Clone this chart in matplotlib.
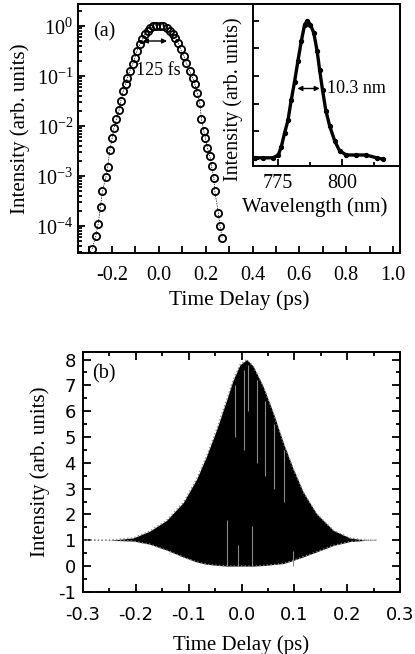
import numpy as np
import matplotlib
matplotlib.use('Agg')
import matplotlib.pyplot as plt
from matplotlib.ticker import FixedLocator, MultipleLocator, LogLocator, NullFormatter, FuncFormatter

plt.rcParams['font.family'] = 'Liberation Serif'
plt.rcParams['mathtext.fontset'] = 'custom'
plt.rcParams['mathtext.rm'] = 'Liberation Serif'
plt.rcParams['axes.linewidth'] = 1.4

# (a) autocorrelation, log scale
t_a = [-0.285, -0.269, -0.259, -0.249, -0.241, -0.226, -0.219, -0.209, -0.199, -0.191,
       -0.181, -0.170, -0.162, -0.152, -0.142, -0.134, -0.124, -0.112, -0.103, -0.093,
       -0.081, -0.070, -0.060, -0.048, -0.038, -0.024, -0.010, 0.004, 0.018, 0.033,
       0.047, 0.061, 0.071, 0.083, 0.093, 0.107, 0.118, 0.132, 0.144, 0.154,
       0.164, 0.175, 0.182, 0.192, 0.199, 0.207, 0.218, 0.225, 0.235, 0.239,
       0.254, 0.261, 0.270]
i_a = [3.5e-5, 6.3e-5, 1.1e-4, 2.4e-4, 5e-4, 9.5e-4, 1.5e-3, 3.3e-3, 5.8e-3, 9.3e-3,
       1.35e-2, 2.05e-2, 3.2e-2, 5e-2, 7e-2, 9.3e-2, 0.126, 0.17, 0.23, 0.32,
       0.43, 0.54, 0.68, 0.79, 0.9, 1.0, 1.02, 1.02, 1.0, 0.92,
       0.79, 0.68, 0.58, 0.46, 0.34, 0.25, 0.18, 0.126, 0.093, 0.068,
       0.046, 0.029, 0.0135, 7.9e-3, 5.8e-3, 3.7e-3, 2.5e-3, 1.6e-3, 9.3e-4, 5e-4,
       1.85e-4, 1e-4, 5.9e-5]

# inset spectrum
wl = [765.8, 769.0, 773.0, 775.0, 776.2, 777.5, 778.8, 780.1, 781.4, 782.7, 784.0,
      785.3, 786.4, 787.6, 788.9, 790.2, 791.2, 792.3, 793.6, 795.1, 797.1,
      799.0, 801.6, 805.5, 809.4, 813.4, 815.9]
spec = [0.01, 0.01, 0.01, 0.03, 0.09, 0.19, 0.28, 0.43, 0.56, 0.71, 0.85,
        0.97, 1.0, 0.97, 0.91, 0.78, 0.64, 0.5, 0.35, 0.24, 0.13,
        0.06, 0.03, 0.03, 0.03, 0.01, 0.0]

# (b) interferometric autocorrelation envelopes
t_up = [-0.300, -0.250, -0.205, -0.174, -0.142, -0.110, -0.085, -0.066, -0.047, -0.028,
        -0.016, -0.003, 0.010, 0.022, 0.041, 0.060, 0.079, 0.098, 0.117, 0.142,
        0.174, 0.205, 0.237, 0.256]
up = [1.0, 1.0, 1.09, 1.35, 1.77, 2.47, 3.37, 4.27, 5.3, 6.45,
      7.2, 7.8, 8.0, 7.75, 6.96, 5.94, 4.78, 3.76, 2.86, 2.03,
      1.38, 1.09, 1.0, 1.0]
low = [1.0, 1.0, 0.97, 0.85, 0.62, 0.35, 0.16, 0.07, 0.03, 0.0,
       0.0, 0.0, 0.0, 0.0, 0.02, 0.06, 0.1, 0.22, 0.36, 0.55,
       0.8, 0.95, 1.0, 1.0]

# gray streaks seen inside the fringe area
streak_t = [-0.028, -0.006, 0.019, 0.098, 0.005, 0.030, 0.045, 0.062, 0.080, -0.012, 0.012]
streak_lo = [0.0, 0.0, 0.0, 0.0, 4.5, 4.0, 3.5, 3.0, 2.5, 5.0, 6.0]
streak_hi = [1.8, 0.8, 1.55, 0.6, 7.6, 7.2, 6.4, 5.5, 4.5, 7.0, 7.8]

fig = plt.figure(figsize=(4.15, 6.54), dpi=100)

ax = fig.add_axes([0.188, 0.613, 0.776, 0.381])
ax.plot(t_a, i_a, '-', color='k', lw=0.5, dashes=(2, 1.5))
ax.plot(t_a, i_a, 'o', mfc='none', mec='k', ms=5.2, mew=1.3)
ax.set_yscale('log')
ax.set_xlim(-0.345, 1.03)
ax.set_ylim(10 ** -4.54, 10 ** 0.44)
ax.xaxis.set_major_locator(FixedLocator([-0.2, 0.0, 0.2, 0.4, 0.6, 0.8, 1.0]))
ax.xaxis.set_minor_locator(FixedLocator([-0.3, -0.1, 0.1, 0.3, 0.5, 0.7, 0.9]))
ax.xaxis.set_major_formatter(FuncFormatter(lambda v, p: '%.1f' % v if abs(v) > 1e-9 else '0.0'))
ax.yaxis.set_major_locator(FixedLocator([1e-4, 1e-3, 1e-2, 1e-1, 1]))
ax.yaxis.set_minor_locator(LogLocator(base=10, subs=np.arange(2, 10)))
ax.yaxis.set_minor_formatter(NullFormatter())
ax.yaxis.set_major_formatter(FuncFormatter(lambda v, p: '10$^{%d}$' % round(np.log10(v))))
ax.tick_params(which='both', direction='in', top=False, right=False, labelsize=14.5, width=1.3)
ax.tick_params(which='major', length=5)
ax.tick_params(which='minor', length=3)
ax.tick_params(axis='x', which='both', length=5, pad=9)
ax.set_xlabel('Time Delay (ps)', fontsize=15.5, labelpad=4)
ax.set_ylabel('Intensity (arb. units)', fontsize=15, labelpad=4)
ax.text(0.047, 0.888, '(a)', transform=ax.transAxes, fontsize=14.5, va='center')
ax.annotate('', xy=(-0.08, 0.5), xytext=(0.047, 0.5),
            arrowprops=dict(arrowstyle='<|-|>', color='k', lw=1.0, mutation_scale=7))
ax.text(0.25, 0.731, '125 fs', transform=ax.transAxes, fontsize=13, ha='center', va='center')

ins = fig.add_axes([0.610, 0.746, 0.354, 0.248])
ins.plot(wl, spec, '-', color='k', lw=2.4)
ins.plot(wl, spec, 'o', color='k', ms=2.8)
ins.set_xlim(765.2, 822.6)
ins.set_ylim(-0.05, 1.12)
ins.xaxis.set_major_locator(FixedLocator([775, 800]))
ins.xaxis.set_minor_locator(FixedLocator([787.5, 812.5]))
ins.yaxis.set_major_locator(MultipleLocator(0.2))
ins.set_yticklabels([])
ins.tick_params(which='both', direction='in', top=False, right=False, labelsize=14.5, width=1.3)
ins.tick_params(which='major', length=5)
ins.tick_params(which='minor', length=3)
ins.tick_params(axis='x', pad=6)
ins.tick_params(axis='y', length=4)
ins.set_xlabel('Wavelength (nm)', fontsize=15)
ins.xaxis.set_label_coords(0.42, -0.19, transform=ins.transAxes)
ins.xaxis.label.set_va('top')
ins.set_ylabel('Intensity (arb. units)', fontsize=14.5)
ins.yaxis.set_label_coords(-0.07, 0.41, transform=ins.transAxes)
ins.annotate('', xy=(781.4, 0.51), xytext=(792.3, 0.51),
             arrowprops=dict(arrowstyle='<|-|>', color='k', lw=1.0, mutation_scale=7))
ins.text(794.0, 0.51, '10.3 nm', fontsize=13, va='center')

bx = fig.add_axes([0.200, 0.095, 0.764, 0.367])
bx.fill_between(t_up, low, up, color='k', lw=0)
bx.plot(t_up, up, color='#888888', lw=1.0, ls=':')
bx.plot(t_up, low, color='#888888', lw=1.0, ls=':')
bx.vlines(streak_t, streak_lo, streak_hi, color='#8a8a8a', lw=0.8)
bx.set_xlim(-0.3, 0.3)
bx.set_ylim(-1, 8.3)
bx.xaxis.set_major_locator(MultipleLocator(0.1))
bx.xaxis.set_minor_locator(MultipleLocator(0.05))
bx.yaxis.set_major_locator(MultipleLocator(1))
bx.yaxis.set_minor_locator(MultipleLocator(0.5))
bx.xaxis.set_major_formatter(FuncFormatter(lambda v, p: '%.1f' % v if abs(v) > 1e-9 else '0.0'))
bx.yaxis.set_major_formatter(FuncFormatter(lambda v, p: '%d' % round(v)))
bx.tick_params(which='both', direction='in', top=True, right=True, width=1.3)
bx.tick_params(which='major', length=6)
bx.tick_params(which='minor', length=3)
bx.tick_params(labelsize=13)
bx.tick_params(axis='x', pad=10)
bx.tick_params(axis='y', pad=5)
for lab in bx.get_xticklabels() + bx.get_yticklabels():
    lab.set_fontfamily('DejaVu Sans')
bx.set_xlabel('Time Delay (ps)', fontsize=15, labelpad=8)
bx.set_ylabel('Intensity (arb. units)', fontsize=15, labelpad=6)
bx.text(0.03, 0.91, '(b)', transform=bx.transAxes, fontsize=14.5, va='center')

fig.savefig('out.png', dpi=100)
